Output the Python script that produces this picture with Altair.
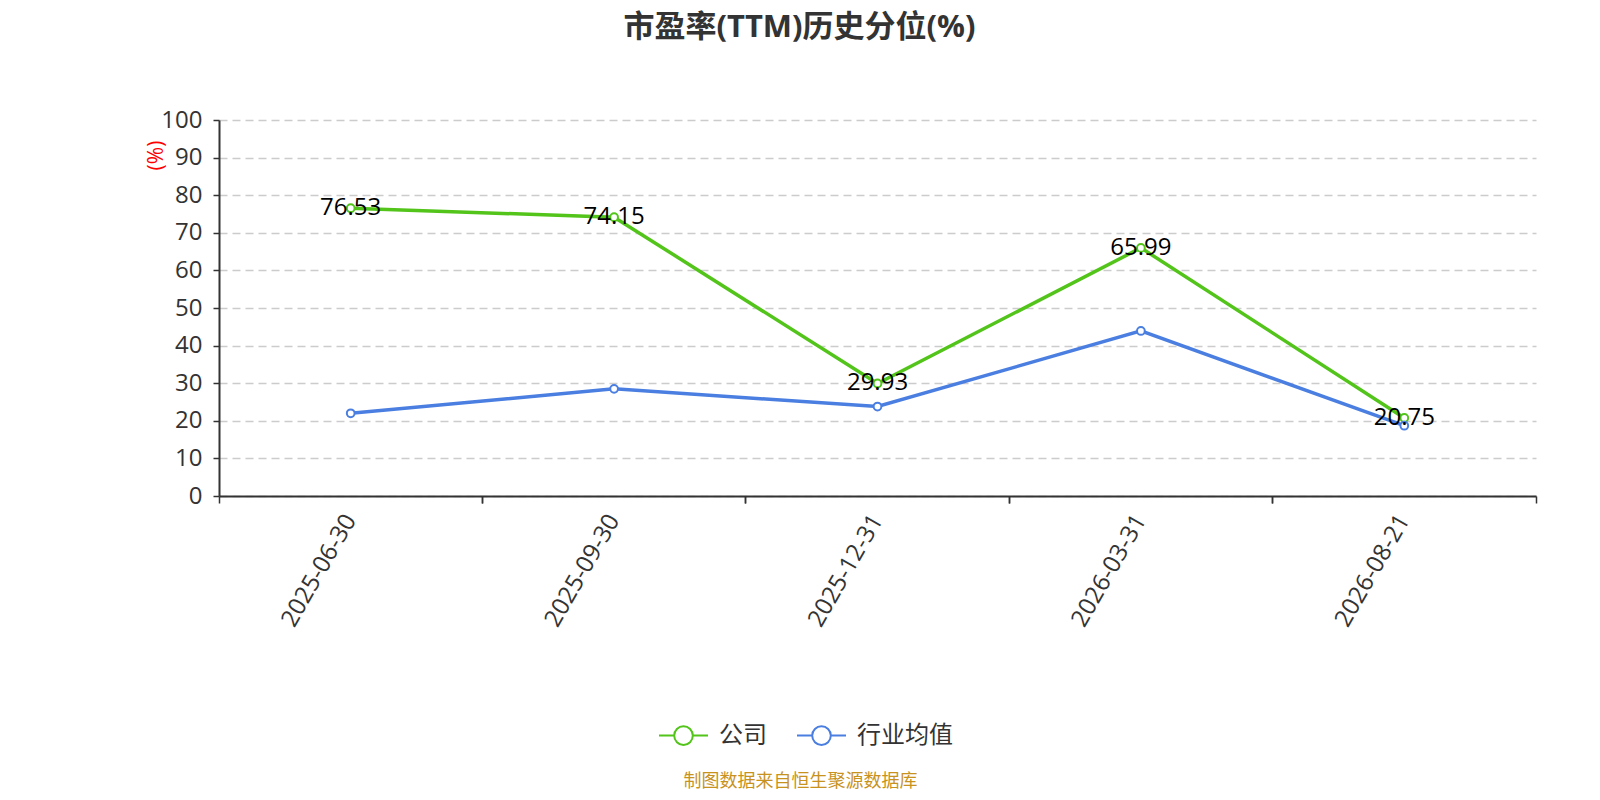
import altair as alt
import pandas as pd

dates = ["2025-06-30", "2025-09-30", "2025-12-31", "2026-03-31", "2026-08-21"]
company = [76.53, 74.15, 29.93, 65.99, 20.75]
industry = [22.0, 28.5, 23.8, 43.9, 18.7]
series_names = ["公司", "行业均值"]
colors = ["#52c41a", "#4a7ee0"]
y_ticks = [0, 10, 20, 30, 40, 50, 60, 70, 80, 90, 100]

rows = []
for d, v in zip(dates, company):
    rows.append({"date": d, "series": series_names[0], "value": v})
for d, v in zip(dates, industry):
    rows.append({"date": d, "series": series_names[1], "value": v})
df = pd.DataFrame(rows)

FONT = "Open Sans, Noto Sans CJK SC"
CJK = "Noto Sans CJK SC"
W, H = 1317, 376

xscale = alt.Scale(type="band", domain=dates, paddingInner=0, paddingOuter=0)
yscale = alt.Scale(domain=[0, 100], nice=False)
cscale = alt.Scale(domain=series_names, range=colors)

sym = "M-1,0L-0.38,0M0.38,0L1,0M0.38,0A0.38,0.38,0,1,1,-0.38,0A0.38,0.38,0,1,1,0.38,0Z"

x_main = alt.X("date:N", scale=xscale, sort=dates,
               axis=alt.Axis(orient="bottom", ticks=False, domain=True, domainColor="#333",
                             domainWidth=2,
                             labelAngle=-60, labelAlign="right", labelBaseline="middle",
                             labelFontSize=24, labelColor="#333", labelFont=FONT, labelPadding=20,
                             grid=False,
                             title="制图数据来自恒生聚源数据库", titleFont=CJK, titleFontSize=18,
                             titleFontWeight="normal", titleColor="#c8921e",
                             titleX=581, titleY=285, titleAlign="center", titleBaseline="middle"))

y_axis = alt.Axis(values=y_ticks, grid=True, gridDash=[8, 5], gridColor="#cccccc",
                  gridWidth=1.3, domainColor="#333", domainWidth=2, tickColor="#333",
                  tickSize=6, tickWidth=1.5, labelOverlap=False,
                  labelFontSize=24, labelColor="#333", labelFont=FONT, labelPadding=11,
                  title="(%)", titleColor="red", titleFontSize=21, titleFont=FONT,
                  titleFontWeight="normal", titleAngle=-90, titleX=-63, titleY=35,
                  titleAlign="center", titleBaseline="middle")


def y_enc():
    return alt.Y("value:Q", scale=yscale, axis=y_axis)


color_enc = alt.Color("series:N", scale=cscale, sort=series_names,
                      legend=alt.Legend(orient="none", legendX=439, legendY=590,
                                        direction="horizontal", title=None,
                                        symbolType=sym, symbolSize=2401, symbolStrokeWidth=2,
                                        symbolFillColor="white",
                                        labelFontSize=24, labelFont=CJK, labelColor="#333",
                                        labelOffset=10, columnPadding=26))

base = alt.Chart(df)

lines = base.mark_line(strokeWidth=3.5).encode(x=x_main, y=y_enc(), color=color_enc)
points = base.mark_point(filled=False, fill="white", size=60, strokeWidth=2, opacity=1).encode(
    x=alt.X("date:N", scale=xscale, sort=dates), y=y_enc(),
    color=alt.Color("series:N", scale=cscale, sort=series_names, legend=None))
labels = base.transform_filter(alt.datum.series == series_names[0]).mark_text(
    fontSize=24, font=FONT, color="black", align="center", baseline="middle").encode(
    x=alt.X("date:N", scale=xscale, sort=dates), y=y_enc(),
    text=alt.Text("value:Q", format=".2f"))

main = alt.layer(lines, points, labels)

tick_axis0 = alt.Axis(orient="bottom", labels=False, domain=False, grid=False, ticks=True,
                      tickColor="#333", tickWidth=1.5, tickSize=7, bandPosition=0, title=None)
tick_axis1 = alt.Axis(orient="bottom", labels=False, domain=False, grid=False, ticks=True,
                      tickColor="#333", tickWidth=1.5, tickSize=7, bandPosition=1, title=None)

t0 = base.mark_point(opacity=0).encode(x=alt.X("date:N", scale=xscale, sort=dates, axis=tick_axis0),
                                       y=y_enc())
t1 = base.mark_point(opacity=0).encode(x=alt.X("date:N", scale=xscale, sort=dates, axis=tick_axis1),
                                       y=y_enc())

chart = alt.layer(main, t0, t1).resolve_axis(x="independent").properties(
    width=W, height=H,
    background="white",
    autosize=alt.AutoSizeParams(type="none"),
    padding={"left": 211, "top": 112, "right": 50, "bottom": 296},
    title=alt.TitleParams("市盈率(TTM)历史分位(%)", font=FONT, fontSize=31, fontWeight="bold",
                          color="#333", anchor="middle", frame="group", offset=64, dx=-78),
).configure_view(stroke=None)

chart.save("out.html", embed_options={"renderer": "svg", "actions": False})
